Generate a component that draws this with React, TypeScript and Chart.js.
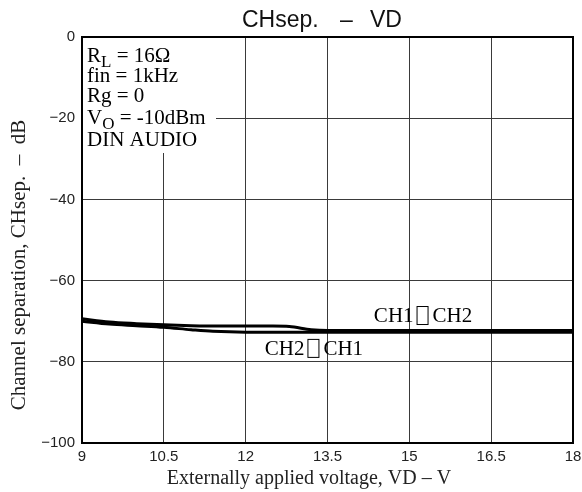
import React, { useEffect, useRef } from "react";
import { Chart, registerables } from "chart.js";

Chart.register(...registerables);

// ---- data ----
const xTicks = [9, 10.5, 12, 13.5, 15, 16.5, 18];
const yTicks = [0, -20, -40, -60, -80, -100];

const ch1to2X = [9, 9.5, 10, 10.5, 11, 11.5, 12, 12.5, 12.8, 13.2, 13.5, 15, 16.5, 18];
const ch1to2Y = [-69.4, -70.2, -70.6, -70.9, -71.1, -71.2, -71.2, -71.2, -71.3, -72.1, -72.3, -72.3, -72.3, -72.3];

const ch2to1X = [9, 9.5, 10, 10.5, 11, 11.4, 12, 13.5, 15, 16.5, 18];
const ch2to1Y = [-70.0, -70.7, -71.1, -71.5, -72.1, -72.5, -72.7, -72.7, -72.7, -72.7, -72.7];

const titleParts = ["CHsep.", "–", "VD"];
const xTitle = "Externally applied voltage, VD – V";
const yTitle = "Channel separation, CHsep.  –  dB";
const labelCh1 = ["CH1", "CH2"];
const labelCh2 = ["CH2", "CH1"];

const SERIF = "'Liberation Serif', 'Times New Roman', serif";
const SANS = "'Liberation Sans', Arial, sans-serif";

const textPlugin = {
  id: "textPlugin",
  afterDraw(chart: any) {
    const ctx = chart.ctx as CanvasRenderingContext2D;
    const ca = chart.chartArea;
    const xs = chart.scales.x;
    const ys = chart.scales.y;
    ctx.save();

    // annotation white box
    ctx.fillStyle = "#fff";
    ctx.fillRect(ca.left + 1, ca.top + 1, 133, 115);

    // annotation text
    ctx.fillStyle = "#000";
    ctx.textAlign = "left";
    ctx.textBaseline = "alphabetic";
    const ax = ca.left + 5;
    const main = `21px ${SERIF}`;
    const sub = `17px ${SERIF}`;
    const drawWithSub = (base: string, s: string, rest: string, y: number) => {
      ctx.font = main;
      ctx.fillText(base, ax, y);
      let w = ctx.measureText(base).width;
      ctx.font = sub;
      ctx.fillText(s, ax + w, y + 5);
      w += ctx.measureText(s).width;
      ctx.font = main;
      ctx.fillText(rest, ax + w, y);
    };
    drawWithSub("R", "L", " = 16Ω", 62);
    ctx.font = main;
    ctx.fillText("fin = 1kHz", ax, 82);
    ctx.fillText("Rg = 0", ax, 102);
    drawWithSub("V", "O", " = -10dBm", 124);
    ctx.font = main;
    ctx.fillText("DIN AUDIO", ax, 146);

    // curve labels
    const drawLabel = (parts: string[], x: number, y: number) => {
      ctx.font = main;
      ctx.fillStyle = "#000";
      ctx.fillText(parts[0], x, y);
      let w = ctx.measureText(parts[0]).width + 3;
      ctx.strokeStyle = "#000";
      ctx.lineWidth = 1;
      ctx.strokeRect(x + w + 0.5, y - 15.5, 11, 18);
      w += 16;
      ctx.fillText(parts[1], x + w, y);
    };
    drawLabel(labelCh1, xs.getPixelForValue(14.35), ys.getPixelForValue(-70.2));
    drawLabel(labelCh2, xs.getPixelForValue(12.35), ys.getPixelForValue(-78.3));

    // frame
    ctx.strokeStyle = "#000";
    ctx.lineWidth = 2;
    ctx.strokeRect(ca.left, ca.top, ca.right - ca.left, ca.bottom - ca.top);

    // main title
    ctx.fillStyle = "#111";
    ctx.font = `23px ${SANS}`;
    ctx.fillText(titleParts[0], 242, 27);
    ctx.fillText(titleParts[1], 340, 27);
    ctx.fillText(titleParts[2], 370, 27);

    // x title
    ctx.fillStyle = "#222";
    ctx.font = `20px ${SERIF}`;
    ctx.textAlign = "center";
    ctx.fillText(xTitle, 309, 484);

    // y title
    ctx.translate(25, 265);
    ctx.rotate(-Math.PI / 2);
    ctx.font = `21px ${SERIF}`;
    ctx.fillText(yTitle, 0, 0);

    ctx.restore();
  },
};

export default function App() {
  const ref = useRef<HTMLCanvasElement | null>(null);
  useEffect(() => {
    if (!ref.current) return;
    const chart = new Chart(ref.current, {
      type: "line",
      data: {
        datasets: [
          {
            label: "CH1→CH2",
            data: ch1to2X.map((x, i) => ({ x, y: ch1to2Y[i] })),
            borderColor: "#000",
            borderWidth: 3,
            pointRadius: 0,
            fill: false,
            cubicInterpolationMode: "monotone",
          },
          {
            label: "CH2→CH1",
            data: ch2to1X.map((x, i) => ({ x, y: ch2to1Y[i] })),
            borderColor: "#000",
            borderWidth: 3,
            pointRadius: 0,
            fill: false,
            cubicInterpolationMode: "monotone",
          },
        ],
      },
      options: {
        responsive: false,
        animation: false,
        layout: { padding: { top: 37, right: 9, left: 0, bottom: 0 } },
        plugins: {
          legend: { display: false },
          title: { display: false },
          tooltip: { enabled: false },
        },
        scales: {
          x: {
            type: "linear",
            min: xTicks[0],
            max: xTicks[xTicks.length - 1],
            afterBuildTicks: (s: any) => {
              s.ticks = xTicks.map((v) => ({ value: v }));
            },
            afterFit: (s: any) => {
              s.height = 49;
              s.paddingLeft = 0;
              s.paddingRight = 0;
            },
            ticks: {
              autoSkip: false,
              maxRotation: 0,
              padding: 5,
              color: "#222",
              font: { family: SANS, size: 15 },
              callback: (v: any) => String(v),
            },
            grid: { color: "#3a3a3a", lineWidth: 1, drawTicks: false },
            border: { display: false },
          },
          y: {
            type: "linear",
            min: -100,
            max: 0,
            afterBuildTicks: (s: any) => {
              s.ticks = yTicks.map((v) => ({ value: v }));
            },
            afterFit: (s: any) => {
              s.width = 82;
              s.paddingTop = 0;
              s.paddingBottom = 0;
            },
            ticks: {
              padding: 7,
              color: "#222",
              font: { family: SANS, size: 15 },
              callback: (v: any) => (v === 0 ? "0" : "−" + Math.abs(v)),
            },
            grid: { color: "#3a3a3a", lineWidth: 1, drawTicks: false },
            border: { display: false },
          },
        },
      },
      plugins: [textPlugin],
    } as any);
    return () => chart.destroy();
  }, []);
  return (
    <div style={{ position: "fixed", left: 0, top: 0, width: 582, height: 492, background: "#fff" }}>
      <canvas ref={ref} width={582} height={492} />
    </div>
  );
}
